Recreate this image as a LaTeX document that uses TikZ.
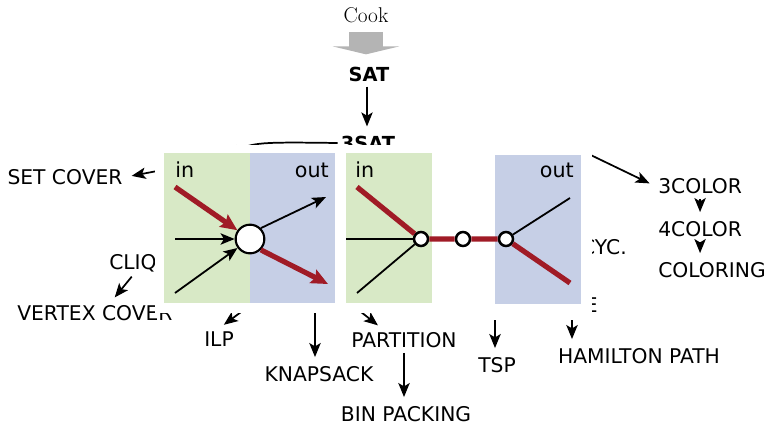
\documentclass[tikz,border=0pt]{standalone}
\usepackage{fontspec}
\newfontfamily\dejavu{DejaVu Sans}
\usetikzlibrary{arrows.meta}
\definecolor{ingreen}{RGB}{216,233,198}
\definecolor{outblue}{RGB}{198,207,230}
\definecolor{flowred}{RGB}{160,27,38}
\definecolor{cookgray}{RGB}{180,180,180}
\tikzset{
  prob/.style={font=\dejavu\fontsize{15.2}{18}\selectfont, inner sep=2.25pt},
  hardprob/.style={font=\dejavu\bfseries\fontsize{14.5}{17}\selectfont, inner sep=2.25pt},
  reduc/.style={->, line width=1.3pt, shorten <=1.5pt, shorten >=4.5pt},
  panellbl/.style={font=\dejavu\fontsize{15.5}{18}\selectfont, inner sep=0pt},
  flow/.style={line width=1.35pt},
  hotflow/.style={line width=3.9pt, flowred},
  redtip/.style={-{Stealth[length=12.5pt,width=11pt,inset=2pt]}},
  bignode/.style={circle, draw, fill=white, line width=1.6pt, minimum size=21.5pt, inner sep=0pt},
  smallnode/.style={circle, draw, fill=white, line width=1.9pt, minimum size=10.5pt, inner sep=0pt}
}
\begin{document}
\begin{tikzpicture}[x=0.75pt,y=-0.75pt,>={Stealth[length=10.5pt,width=8.5pt,inset=2.5pt]}]
\useasboundingbox (0,0) rectangle (764,425);

\node[font=\fontsize{16}{18}\selectfont, inner sep=2.25pt] (cook) at (366,15) {Cook};
\node[hardprob] (sat) at (369,74) {SAT};
\node[hardprob] (3sat) at (368,143) {3SAT};
\node[prob] (setcover) at (65,177) {SET COVER};
\node[prob] (cliq) at (133,263) {CLIQ};
\node[prob,anchor=west] (vertexcover) at (14,313) {VERTEX COVER};
\node[prob] (ilp) at (219,339) {ILP};
\node[prob] (knapsack) at (319,374) {KNAPSACK};
\node[prob] (partition) at (404,340) {PARTITION};
\node[prob] (binpacking) at (406,414) {BIN PACKING};
\node[prob] (tsp) at (497,365) {TSP};
\node[prob] (hampath) at (639,356) {HAMILTON PATH};
\node[prob,anchor=west] (3color) at (655,186) {3COLOR};
\node[prob,anchor=west] (4color) at (655,229) {4COLOR};
\node[prob,anchor=west] (coloring) at (655,270) {COLORING};
\node[prob,anchor=east] (cyc) at (630,247) {CYC.};
\node[prob,anchor=east] (hamcyc) at (601,305) {E};

\coordinate (scsrc) at (215,160);
\coordinate (indset) at (228,158);
\coordinate (bend) at (572,146);
\coordinate (ilpsrc) at (291,275);
\coordinate (partsrc) at (323,282);
\coordinate (knapsrc) at (315,290);
\coordinate (tspsrc) at (495,318);
\coordinate (hpsrc) at (572,318);

\draw[cookgray, line width=26pt, -{Triangle[length=6pt,width=50pt]}, shorten <=4.4pt, shorten >=6.8pt]
  (cook.south) -- (cook.south |- sat.north);
\draw[reduc] ([xshift=-1.5pt]sat.south) -- ([xshift=-1.5pt]sat.south |- 3sat.north);
\draw[->, line width=1.3pt] (3sat.west) .. controls (262,142) and (250,142) .. (indset);
\draw[reduc] (3sat.south east) -- (bend) -- (3color.west);
\draw[reduc] (3color.south) -- (3color.south |- 4color.north);
\draw[reduc] (4color.south) -- (4color.south |- coloring.north);
\draw[reduc] (scsrc) -- (setcover.east);
\draw[reduc] (cliq.south) -- ([xshift=12pt]vertexcover.north);
\draw[reduc] (ilpsrc) -- (ilp.north);
\draw[reduc] (knapsrc) -- (knapsrc |- knapsack.north);
\draw[reduc] (partsrc) -- ([xshift=-16pt]partition.north);
\draw[reduc] (partition) -- (partition |- binpacking.north);
\draw[reduc] (tspsrc) -- (tspsrc |- tsp.north);
\draw[reduc] (hpsrc) -- (hpsrc |- hampath.north);

\fill[white] (155,145) rectangle (592,313);
\fill[ingreen] (164,153) rectangle (250,303);
\fill[outblue] (250,153) rectangle (335,303);
\fill[ingreen] (346,153) rectangle (432,303);
\fill[outblue] (495,155) rectangle (581,304);

\node[panellbl, anchor=base west] (inL) at (175,177) {in};
\node[panellbl, anchor=base east] (outL) at (329,177) {out};
\node[panellbl, anchor=base west] (inR) at (355,177) {in};
\node[panellbl, anchor=base east] (outR) at (574,177) {out};

\node[bignode] (hub) at (250,239) {};
\coordinate (l1) at (175,187);
\coordinate (l2) at (175,239);
\coordinate (l3) at (175,293);
\coordinate (r1) at (326,197);
\coordinate (r2) at (328,284);
\draw[hotflow, redtip] (l1) -- (hub);
\draw[flow, ->] (l2) -- (hub);
\draw[flow, ->] (l3) -- (hub);
\draw[flow, ->] (hub.north east) -- (r1);
\draw[hotflow, redtip] (hub.south east) -- (r2);

\node[smallnode] (j1) at (421,239) {};
\node[smallnode] (j2) at (463,239) {};
\node[smallnode] (j3) at (506,239) {};
\coordinate (m1) at (357,187);
\coordinate (m2) at (346,239);
\coordinate (m3) at (357,293);
\coordinate (m4) at (570,198);
\coordinate (m5) at (570,283);
\draw[hotflow] (m1) -- (j1) -- (j2) -- (j3) -- (m5);
\draw[flow] (m2) -- (j1);
\draw[flow] (m3) -- (j1);
\draw[flow] (j3) -- (m4);
\end{tikzpicture}
\end{document}
